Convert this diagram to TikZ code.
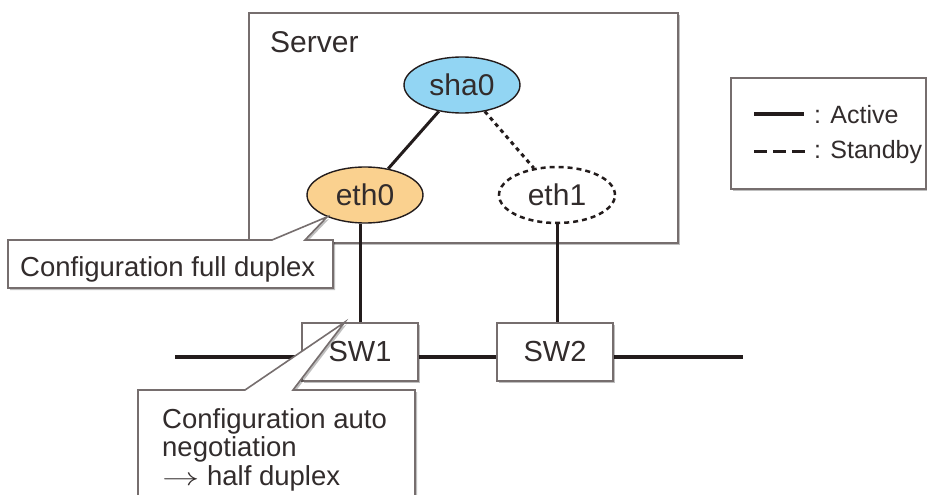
\documentclass[tikz,border=0pt]{standalone}
\usepackage{fontspec}
\setmainfont{Liberation Sans}
\usetikzlibrary{calc,shadows,shapes.geometric}

\definecolor{boxgray}{RGB}{118,110,110}
\definecolor{linedark}{RGB}{35,28,28}
\definecolor{txtgray}{RGB}{50,44,44}
\definecolor{shablue}{RGB}{146,213,243}
\definecolor{ethorange}{RGB}{250,209,143}

\tikzset{
  box/.style={draw=boxgray, line width=1.6pt, fill=white,
    drop shadow={shadow xshift=2pt, shadow yshift=-2pt, fill=black, opacity=0.25}},
  nic/.style={ellipse, draw=linedark, line width=1.4pt, minimum width=116pt,
    minimum height=56pt, inner sep=0pt, text=txtgray, font=\fontsize{30}{36}\selectfont},
  switchbox/.style={box, rectangle, minimum width=116pt, minimum height=58pt,
    inner sep=0pt, text=txtgray, font=\fontsize{29}{34}\selectfont},
  active/.style={draw=linedark, line width=3pt},
  standby/.style={draw=linedark, line width=3pt, dash pattern=on 4pt off 4pt},
  bus/.style={draw=linedark, line width=4.5pt},
  note/.style={inner sep=0pt, text=txtgray, font=\fontsize{27.5}{28.5}\selectfont},
  legendtext/.style={inner sep=0pt, text=txtgray, font=\fontsize{25}{30}\selectfont},
}

\begin{document}
\begin{tikzpicture}[x=1pt, y=-1pt]
  \clip (0,0) rectangle (927,495);

  % Server
  \path[box] (249,13) rectangle (678,243);
  \node[anchor=base west, inner sep=0pt, text=txtgray, font=\fontsize{30}{36}\selectfont] (srv) at (270,53) {Server};

  % Interfaces
  \node[nic, fill=shablue] (sha0) at (462,85) {sha0};
  \node[nic, fill=ethorange] (eth0) at (365,195) {eth0};
  \node[nic, fill=white, dash pattern=on 5pt off 4pt, line width=2.5pt] (eth1) at (557,195) {eth1};
  \draw[active] (sha0) -- (eth0);
  \draw[standby] (sha0) -- (eth1);

  % Network
  \coordinate (busL) at (175,357);
  \coordinate (busR) at (743,357);
  \draw[bus] (busL) -- (busR);
  \node[switchbox] (SW1) at (360,352) {SW1};
  \node[switchbox] (SW2) at (555,352) {SW2};
  \draw[active] (SW1.north) -- (SW1.north |- eth0.south);
  \draw[active] (eth1.south) -- (eth1.south |- SW2.north);

  % Callouts
  \path[box] (8,240) -- (272,240) -- (eth0.210) -- (305,240) -- (333,240)
    -- (333,288) -- (8,288) -- cycle;
  \node[note, anchor=base west] (note1) at (20,276) {Configuration full duplex};

  \coordinate (sw1tip) at ($(SW1.north west)!0.37!(SW1.north east)$);
  \path[box] (138,390) -- (245,390) -- (sw1tip) -- (293,390) -- (415,390)
    -- (415,520) -- (138,520) -- cycle;
  \node[note, anchor=north west, align=left] (note2) at (162,408)
    {Configuration auto\\negotiation\\\scalebox{1.5}[1]{$\rightarrow$} half duplex};

  % Legend
  \path[box] (731,78) rectangle (926,189);
  \node[legendtext, anchor=base west] (lgA) at (814,123) {: Active};
  \node[legendtext, anchor=base west] (lgS) at (814,158) {: Standby};
  \draw[active, line width=3.4pt] ([xshift=-60pt]lgA.west) -- ([xshift=-10pt]lgA.west);
  \draw[active, line width=3.4pt, dash pattern=on 13pt off 6pt] ([xshift=-60pt]lgS.west) -- ([xshift=-9pt]lgS.west);
\end{tikzpicture}
\end{document}
